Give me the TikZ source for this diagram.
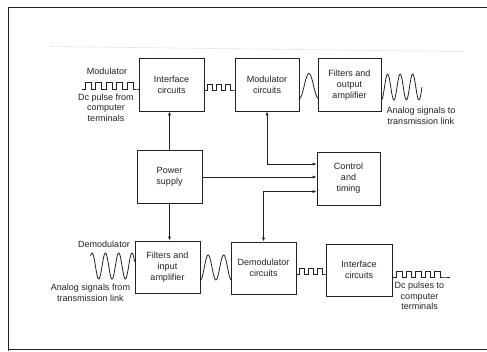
\documentclass[tikz,border=0pt]{standalone}
\usepackage{fontspec}
\setmainfont{Liberation Sans}
\usetikzlibrary{arrows.meta}
\definecolor{ink}{HTML}{222222}
\begin{document}
\begin{tikzpicture}[x=1pt,y=-1pt,
  box/.style={draw=ink, line width=0.8pt, minimum width=65pt, minimum height=53pt,
    inner sep=1pt, align=center, font=\fontsize{9}{11}\selectfont, text=ink},
  lbl/.style={align=center, font=\fontsize{9}{10.7}\selectfont, text=ink, inner sep=0pt},
  wire/.style={draw=ink, line width=0.8pt},
  tip/.tip={Latex[length=4pt,width=3.2pt]},
]
\useasboundingbox (0,0) rectangle (487,351);
\fill[white] (0,0) rectangle (487,351);
% frame
\draw[ink, line width=1.5pt] (487,7.5) -- (8.5,7.5) -- (8.5,351);
\draw[ink, line width=1.5pt] (8.5,349.5) -- (487,349.5);
\draw[gray!20, line width=0.6pt] (50,46.5) -- (462,51.5);

% boxes
\node[box] (ic1) at (171.5,84.5) {Interface\\circuits};
\node[box, minimum width=64pt] (mc) at (267,84.5) {Modulator\\circuits};
\node[box, minimum width=63pt] (fo) at (349.5,85) {Filters and\\output\\amplifier};
\node[box] (ps) at (169.5,177) {Power\\supply};
\node[box, minimum width=63pt] (ct) at (348.5,178.5) {Control\\and\\timing};
\node[box, minimum height=52pt] (fi) at (167.5,267) {Filters and\\input\\amplifier};
\node[box, minimum height=52pt] (dc) at (263.5,268) {Demodulator\\circuits};
\node[box, minimum width=66pt, minimum height=52pt] (ic2) at (359,270) {Interface\\circuits};

% labels
\node[lbl] (lmod) at (107,71) {Modulator};
\node[lbl] (ldcin) at (106,107.5) {Dc pulse from\\computer\\terminals};
\node[lbl] (lanout) at (421,115.5) {Analog signals to\\transmission link};
\node[lbl] (ldemod) at (104,244) {Demodulator};
\node[lbl] (lanin) at (90.5,293) {Analog signals from\\transmission link};
\node[lbl] (ldcout) at (419.5,296) {Dc pulses to\\computer\\terminals};

% control connectors
\draw[wire,-tip] (ps.north) -- (ps.north |- ic1.south);
\draw[wire,-tip] (ps.south) -- (ps.south |- fi.north);
\draw[wire,-tip] (ps.east) -- (ps.east -| ct.west);
\draw[wire,tip-tip] (mc.south) |- ([yshift=14.5pt]ct.west);
\draw[wire,tip-tip] (dc.north) |- ([yshift=-13pt]ct.west);

% waveforms
\coordinate (s1) at (82,89);
\draw[wire] (s1) -- ++(3,0)
  \foreach \i in {1,...,5}{ -- ++(0,-7) -- ++(6,0) -- ++(0,7) -- ++(4.5,0)}
  -- (s1 -| ic1.west);
\draw[wire] ([yshift=-5.5pt]ic1.east) coordinate (s2) -- ++(3,0)
  \foreach \i in {1,2,3}{ -- ++(0,-6) -- ++(5,0) -- ++(0,6) -- ++(4,0)}
  -- (s2 -| mc.west);
\draw[wire, shift={(mc.east)}] plot[domain=0:19, samples=40, smooth]
  (\x, {1.5+12.5*cos(360*\x/19)});
\draw[wire, shift={(fo.east)}] plot[domain=0:40.6, samples=90, smooth]
  (\x, {2+13*cos(360*\x/12.5)});
\draw[wire, shift={(fi.west)}] plot[domain=-44:0, samples=90, smooth]
  (\x, {-1-13*cos(360*(\x+42.5)/13.3)});
\draw[wire, shift={(fi.east)}] plot[domain=0:31, samples=70, smooth]
  (\x, {0.5+12.5*cos(360*\x/15.5)});
\draw[wire] ([yshift=-6pt]dc.east) coordinate (s3) -- ++(3,0)
  \foreach \i in {1,2,3}{ -- ++(0,-6) -- ++(5,0) -- ++(0,6) -- ++(4,0)}
  -- (s3 -| ic2.west);
\draw[wire] ([yshift=-7pt]ic2.east) coordinate (s4) -- ++(4,0)
  \foreach \i in {1,...,5}{ -- ++(0,-6) -- ++(5.5,0) -- ++(0,6) -- ++(4,0)}
  -- ++(6.5,0) coordinate (s4end);
\end{tikzpicture}
\end{document}
